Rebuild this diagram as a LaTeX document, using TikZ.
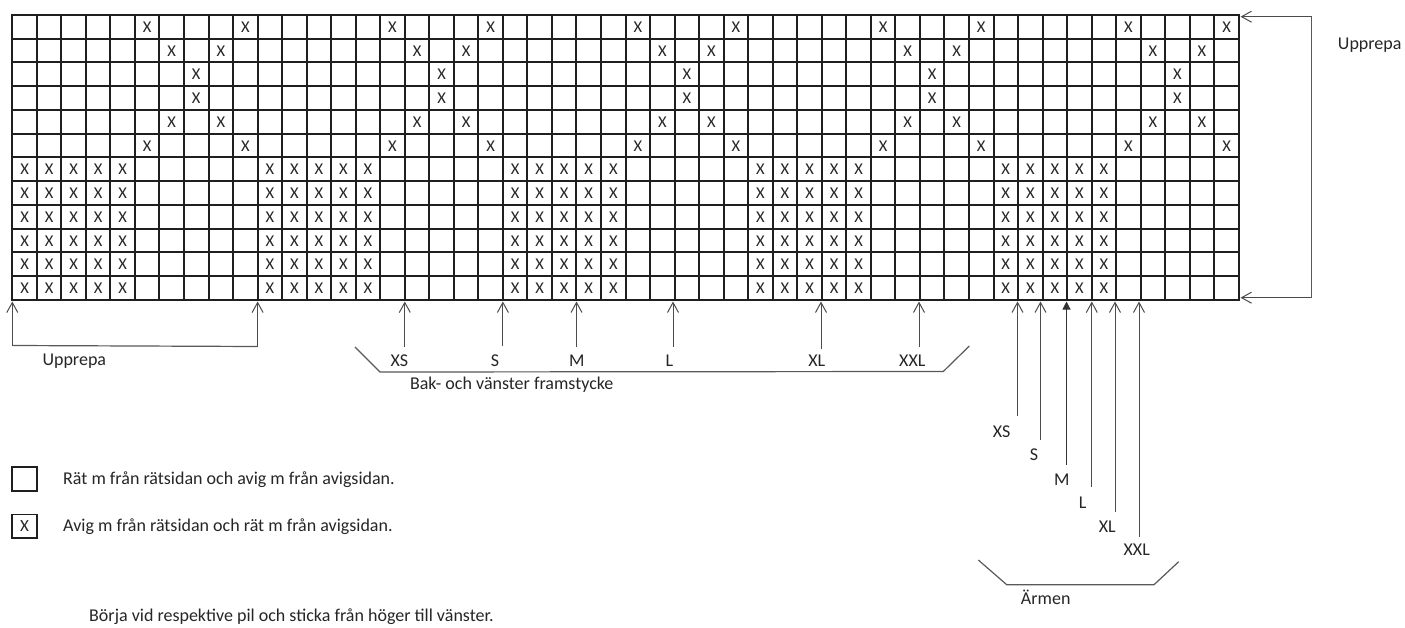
\documentclass[tikz,border=0pt]{standalone}
\usepackage{fontspec}
\setmainfont{Carlito}
\usetikzlibrary{arrows.meta}
\begin{document}
\begin{tikzpicture}[x=1pt,y=-1pt,
  gridline/.style={line width=2pt,draw=black!88,line cap=rect},
  xmark/.style={inner sep=0pt,font=\fontsize{16.5}{16.5}\selectfont,text=black!85},
  lbl/.style={inner sep=0pt,font=\fontsize{18}{18}\selectfont,text=black!85},
  arr/.style={draw=black!70,line width=1pt,-{Straight Barb[length=10pt,width=11pt]}},
  farr/.style={draw=black!80,line width=1pt,-{Triangle[length=8pt,width=8pt]}},
  brk/.style={draw=black!65,line width=1.2pt},
  legbox/.style={draw=black!88,line width=1.8pt,minimum width=24.4pt,minimum height=23.7pt,inner sep=0pt,font=\fontsize{17}{17}\selectfont,text=black!85},
]
\useasboundingbox (0,0) rectangle (1405,628);
\fill[white] (0,0) rectangle (1405,628);

% grid
\foreach \i in {0,...,50} \draw[gridline] ({12.3+24.53*\i},15) -- ({12.3+24.53*\i},300);
\foreach \j in {0,...,12} \draw[gridline] (12.3,{15+23.75*\j}) -- (1238.8,{15+23.75*\j});

% marks
\foreach \b in {0,10,20,30,40}{
  \foreach \r/\m in {0/5,0/9,1/6,1/8,2/7,3/7,4/6,4/8,5/5,5/9}
    \node[xmark] (t-\r-\b-\m) at ({12.3+24.53*(\b+\m+0.5)},{15.3+23.75*(\r+0.5)}) {X};
  \foreach \m in {0,...,4}
    \foreach \r in {6,...,11}
      \node[xmark] (k-\r-\b-\m) at ({12.3+24.53*(\b+\m+0.5)},{15.3+23.75*(\r+0.5)}) {X};
}

% left repeat bracket
\coordinate (upL-tip) at (12.3,301.5);
\coordinate (upL-foot) at (12.3,345.5);
\coordinate (upR-tip) at (257.6,301.5);
\coordinate (upR-foot) at (257.6,346.5);
\draw[arr] (upL-foot) -- (upL-tip);
\draw[arr] (upR-foot) -- (upR-tip);
\draw[brk] (upL-foot) -- (upR-foot);
\node[lbl] (upL-lbl) at (74.3,361) {Upprepa};

% right repeat bracket
\coordinate (rT-tip) at (1240.5,16.7);
\coordinate (rT-end) at (1311.7,16.7);
\coordinate (rB-tip) at (1240.5,297.7);
\coordinate (rB-end) at (1311.7,297.7);
\draw[arr] (rT-end) -- (rT-tip);
\draw[arr] (rB-end) -- (rB-tip);
\draw[brk] (rT-end) -- (rB-end);
\node[lbl] (upRt-lbl) at (1369.7,45) {Upprepa};

% back / left front sizes
\foreach \n/\x/\f/\lx/\ly in {XS/404.8/346.5/399.3/361, S/502.9/345.5/495/361, M/576.5/346.5/576.7/361, L/673/346.5/669.3/360.5, XL/821/349/816.7/360.5, XXL/919/346.5/912.3/360.5}{
  \coordinate (b\n-tip) at (\x,301.5);
  \coordinate (b\n-foot) at (\x,\f);
  \draw[arr] (b\n-foot) -- (b\n-tip);
  \node[lbl] (b\n-lbl) at (\lx,\ly) {\n};
}
\coordinate (bk1) at (355,347);
\coordinate (bk2) at (380,372);
\coordinate (bk3) at (943.3,371.5);
\coordinate (bk4) at (969.3,346);
\draw[brk] (bk1) -- (bk2) -- (bk3) -- (bk4);
\node[lbl] (bak-lbl) at (511.7,384.3) {Bak- och vänster framstycke};

% sleeve sizes
\foreach \n/\x/\f/\lx/\ly in {XS/1017.5/416/1001.7/431.7, S/1040.5/440/1034/455, L/1091.8/487.3/1082.7/502.7, XL/1115/511.7/1107.3/526.7, XXL/1139/536.7/1136.7/550}{
  \coordinate (s\n-tip) at (\x,301.5);
  \coordinate (s\n-foot) at (\x,\f);
  \draw[arr] (s\n-foot) -- (s\n-tip);
  \node[lbl] (s\n-lbl) at (\lx,\ly) {\n};
}
\coordinate (sM-tip) at (1066.5,301.5);
\coordinate (sM-foot) at (1066.5,465);
\draw[farr] (sM-foot) -- (sM-tip);
\node[lbl] (sM-lbl) at (1061.7,479.3) {M};
\coordinate (sk1) at (978.3,560);
\coordinate (sk2) at (1006.7,584.7);
\coordinate (sk3) at (1154,584.7);
\coordinate (sk4) at (1178.7,561.7);
\draw[brk] (sk1) -- (sk2) -- (sk3) -- (sk4);
\node[lbl] (arm-lbl) at (1045.7,597.3) {Ärmen};

% legend
\node[legbox] (leg1) at (24.5,479.2) {};
\node[legbox] (leg2) at (24.5,526.3) {X};
\node[lbl,anchor=west] (leg1t) at (63,479.3) {Rät m från rätsidan och avig m från avigsidan.};
\node[lbl,anchor=west] (leg2t) at (63,526.7) {Avig m från rätsidan och rät m från avigsidan.};
\node[lbl,anchor=west] (note) at (89,617) {Börja vid respektive pil och sticka från höger till vänster.};
\end{tikzpicture}
\end{document}
